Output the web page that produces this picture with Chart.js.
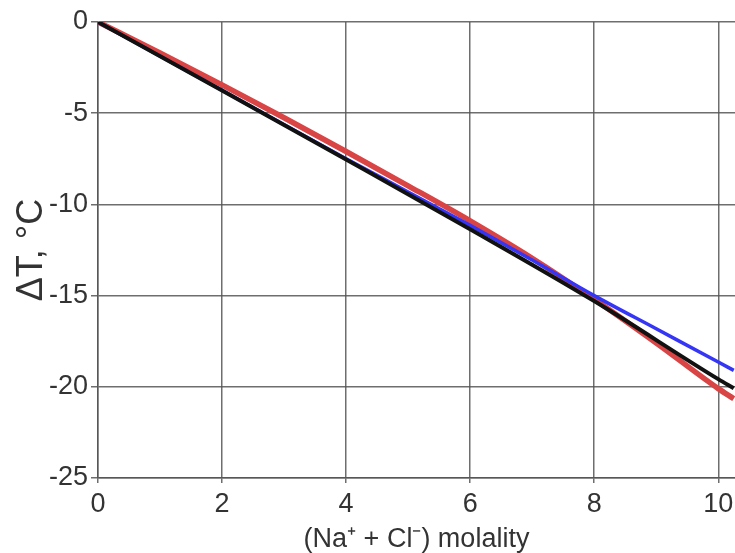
<!DOCTYPE html>
<html>
<head>
<meta charset="utf-8">
<script src="https://cdn.jsdelivr.net/npm/chart.js@4.4.1/dist/chart.umd.min.js"></script>
<style>
  html, body { margin: 0; padding: 0; background: #fff; }
</style>
</head>
<body>
<canvas id="myGraph" width="735" height="553"></canvas>
<script>
// (Na+ + Cl-) molality vs freezing point depression
const redX   = [0, 1, 2, 3, 4, 5, 6, 7, 8, 9, 10, 10.25];
const redY   = [0, -1.7, -3.45, -5.25, -7.1, -8.98, -10.9, -12.95, -15.2, -17.6, -20.1, -20.65];

const blueX  = [0, 2, 4, 5, 6, 7, 8, 9, 10, 10.25];
const blueY  = [0, -3.74, -7.5, -9.32, -11.15, -13.05, -15.0, -16.82, -18.64, -19.1];

const blackX = [0, 2, 4, 6, 8, 10, 10.25];
const blackY = [0, -3.76, -7.54, -11.36, -15.3, -19.58, -20.08];

const xTicks = [0, 2, 4, 6, 8, 10];
const yTicks = [0, -5, -10, -15, -20, -25];

function pts(xs, ys) {
  return xs.map((x, i) => ({x: x, y: ys[i]}));
}

const gridColor = 'rgba(85, 85, 85, 0.85)';
const textColor = '#333333';
const fam = 'Liberation Sans, Arial, sans-serif';

const graph = document.getElementById('myGraph');

const myGraph = new Chart(graph, {
  type: 'line',
  data: {
    datasets: [
      {label: 'black', data: pts(blackX, blackY), borderColor: '#111111', borderWidth: 4, order: 1},
      {label: 'blue', data: pts(blueX, blueY), borderColor: '#3535f5', borderWidth: 3.5, order: 2},
      {label: 'red', data: pts(redX, redY), borderColor: '#d94444', borderWidth: 5.5, order: 3}
    ]
  },
  options: {
    responsive: false,
    animation: false,
    events: [],
    elements: {
      point: {radius: 0},
      line: {cubicInterpolationMode: 'monotone', borderCapStyle: 'butt'}
    },
    layout: {padding: {top: 22, right: 0, left: 0, bottom: 0}},
    plugins: {legend: {display: false}, tooltip: {enabled: false}},
    scales: {
      x: {
        type: 'linear',
        min: 0,
        max: 10.27,
        afterFit: (s) => { s.height = 75; s.paddingLeft = 0; s.paddingRight = 0; },
        afterBuildTicks: (s) => { s.ticks = xTicks.map(v => ({value: v})); },
        ticks: {
          includeBounds: false,
          color: textColor,
          padding: 5,
          maxRotation: 0,
          font: {family: fam, size: 27}
        },
        grid: {color: gridColor, lineWidth: 1.5, tickLength: 5},
        border: {color: gridColor, width: 1.5},
        title: {
          display: true,
          text: '(Na\u207A + Cl\u207B) molality',
          color: textColor,
          padding: 0,
          font: {family: fam, size: 27, lineHeight: 1}
        }
      },
      y: {
        type: 'linear',
        min: -25,
        max: 0,
        afterFit: (s) => { s.width = 98; s.paddingTop = 0; s.paddingBottom = 0; },
        afterBuildTicks: (s) => { s.ticks = yTicks.map(v => ({value: v})); },
        ticks: {
          color: textColor,
          padding: 3,
          font: {family: fam, size: 27}
        },
        grid: {color: gridColor, lineWidth: 1.5, tickLength: 7},
        border: {color: gridColor, width: 1.5},
        title: {
          display: true,
          text: '\u0394T, \u00B0C',
          color: textColor,
          padding: {top: 10, bottom: 0},
          font: {family: fam, size: 36, lineHeight: 1.2}
        }
      }
    }
  }
});
</script>
</body>
</html>
